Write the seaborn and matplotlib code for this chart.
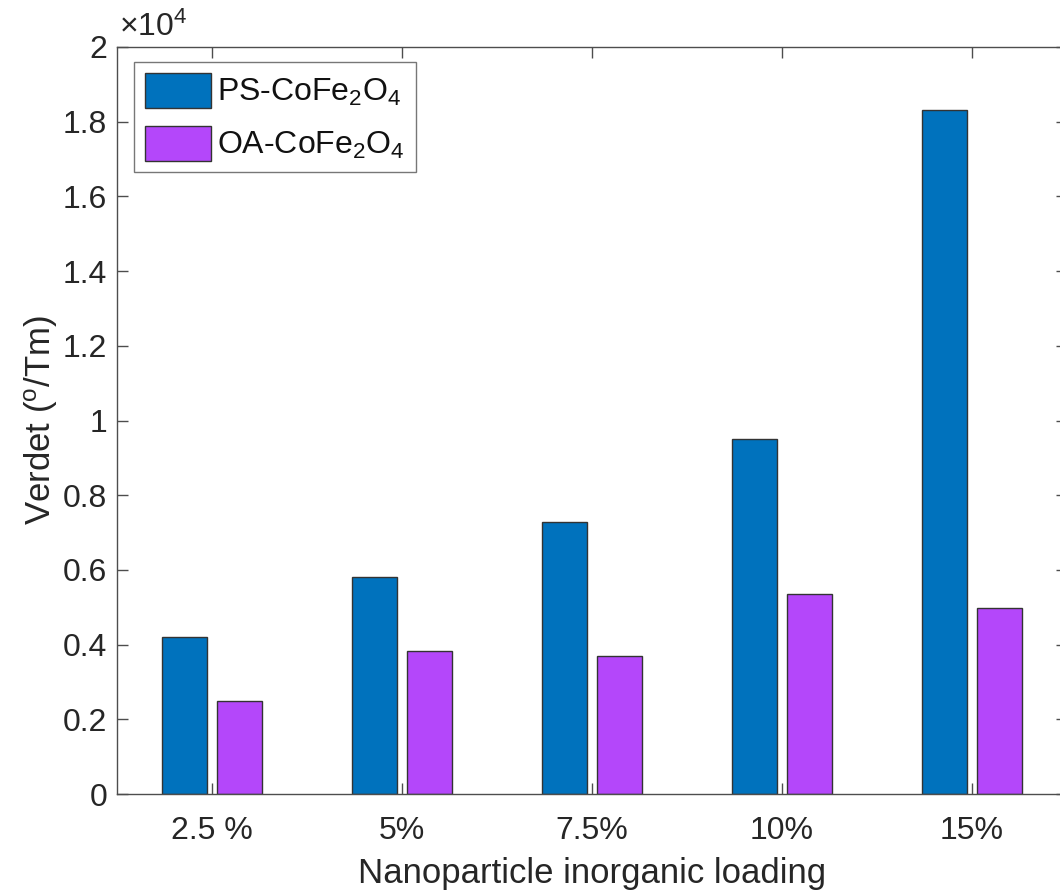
import numpy as np
import pandas as pd
import seaborn as sns
import matplotlib
matplotlib.use("Agg")
import matplotlib.pyplot as plt
from matplotlib.ticker import FuncFormatter, MultipleLocator

# Verdet constants of the two nanoparticle composites
loadings = ["2.5 %", "5%", "7.5%", "10%", "15%"]
ps_verdet = [4200, 5800, 7270, 9500, 18300]
oa_verdet = [2480, 3830, 3700, 5350, 4970]
series_names = ["PS-CoFe$_2$O$_4$", "OA-CoFe$_2$O$_4$"]
series_colors = ["#0072BD", "#B447FA"]

df = pd.DataFrame({
    "loading": loadings * 2,
    "verdet": ps_verdet + oa_verdet,
    "series": [series_names[0]] * len(loadings) + [series_names[1]] * len(loadings),
})

sns.set_theme(style="ticks")
plt.rcParams["font.family"] = ["Liberation Sans", "DejaVu Sans"]
plt.rcParams["mathtext.default"] = "regular"
text_color = "#262626"
axis_color = "#4d4d4d"

fig = plt.figure(figsize=(10.6, 8.92), dpi=100)
ax = fig.add_axes([117 / 1060, 98 / 892, 950 / 1060, 747 / 892])

sns.barplot(data=df, x="loading", y="verdet", hue="series", order=loadings,
            hue_order=series_names, palette=series_colors, width=0.58, gap=0.18,
            edgecolor="#333333", linewidth=1.0, saturation=1.0, ax=ax)

ax.set_xlim(-0.5, 4.5)
ax.set_ylim(0, 20000)
ax.yaxis.set_major_locator(MultipleLocator(2000))
ax.yaxis.set_major_formatter(FuncFormatter(lambda v, p: f"{v / 1e4:g}"))

for side in ["top", "right", "left", "bottom"]:
    ax.spines[side].set_visible(True)
    ax.spines[side].set_color(axis_color)
    ax.spines[side].set_linewidth(1.0)
ax.tick_params(axis="both", which="major", direction="in", length=8, width=1.0,
               color=axis_color, labelsize=23, labelcolor=text_color,
               top=True, right=True, pad=7)
ax.tick_params(axis="x", pad=16)

ax.set_xlabel("Nanoparticle inorganic loading", fontsize=25, color=text_color, labelpad=8)
ax.set_ylabel("Verdet ($^{o}$/Tm)", fontsize=25, color=text_color, labelpad=2)
ax.text(0.002, 1.005, r"$\times$10$^4$", transform=ax.transAxes, fontsize=23,
        color=text_color, ha="left", va="bottom")

leg = ax.legend(loc="upper left", bbox_to_anchor=(0.018, 0.980), fontsize=23,
                frameon=True, fancybox=False, edgecolor="#555555",
                handlelength=2.05, handleheight=1.3, handletextpad=0.2,
                borderpad=0.35, labelspacing=0.55, borderaxespad=0.0)
leg.get_frame().set_linewidth(1.0)
for t in leg.get_texts():
    t.set_color("#111111")

fig.savefig("out.png", dpi=100, facecolor="white")
